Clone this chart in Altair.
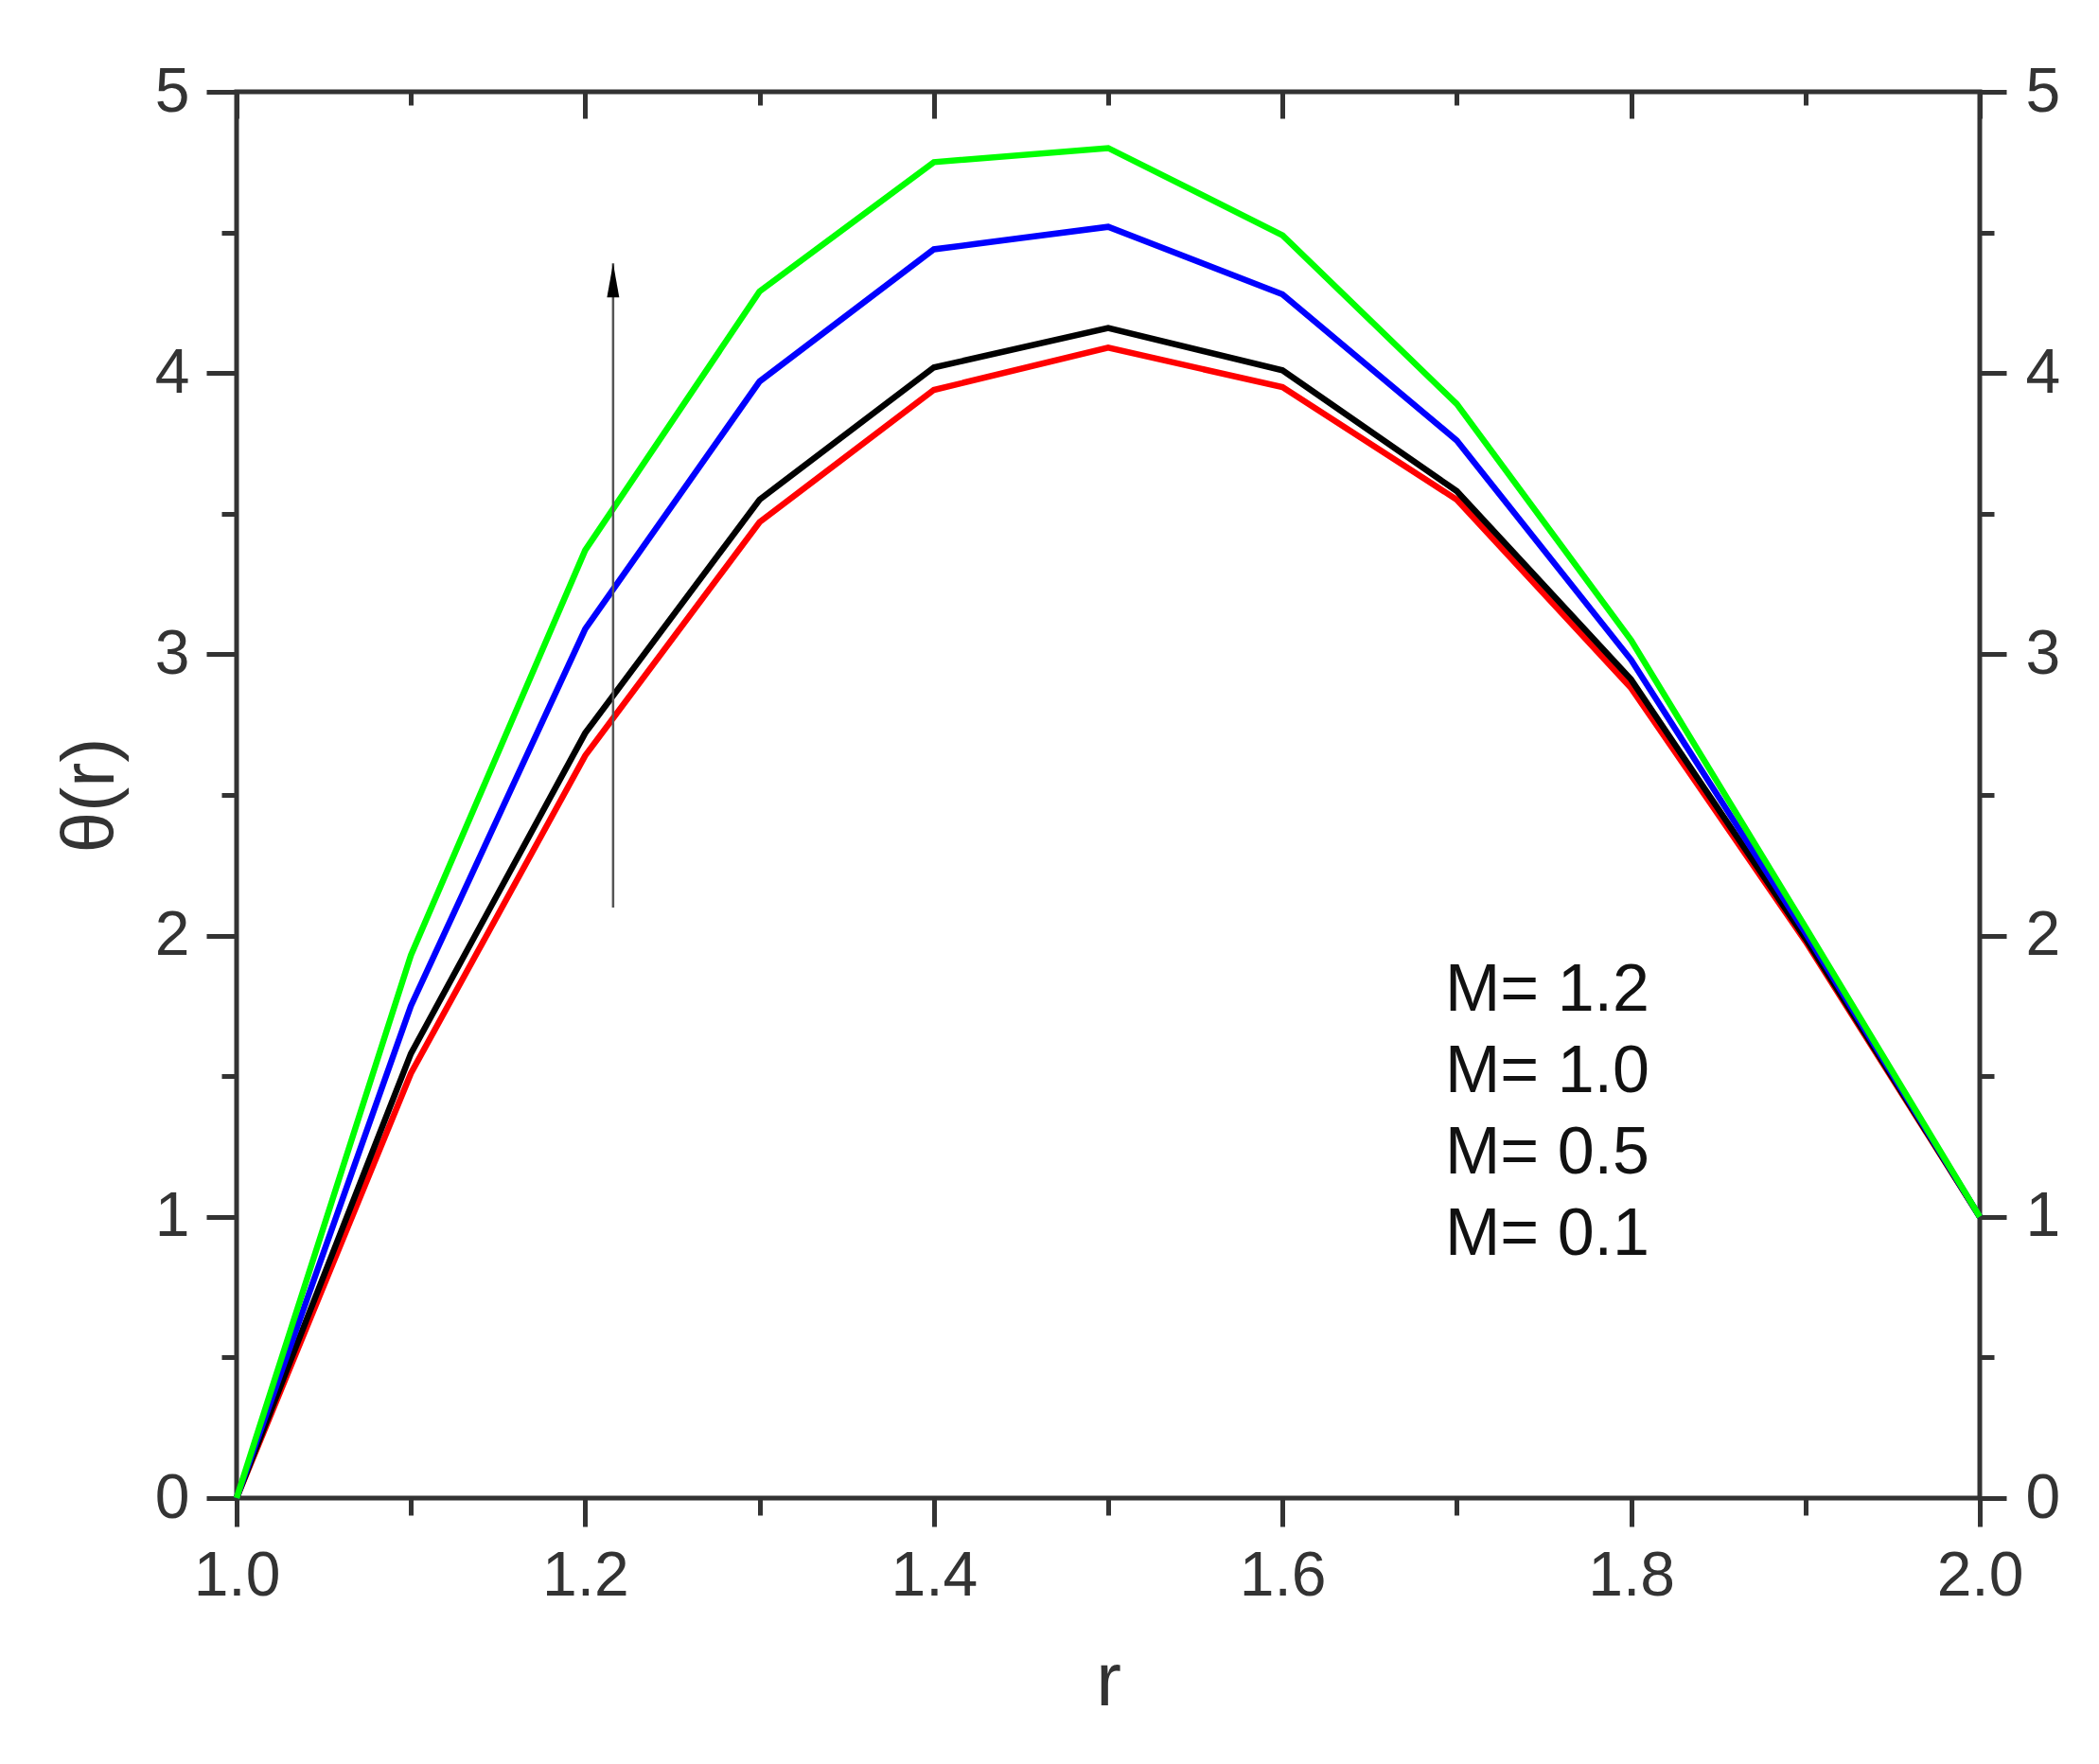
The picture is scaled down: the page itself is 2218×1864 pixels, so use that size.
import altair as alt
import pandas as pd

# ---- data ----
r_values = [1.0, 1.1, 1.2, 1.3, 1.4, 1.5, 1.6, 1.7, 1.8, 1.9, 2.0]
theta_M12 = [0.0, 1.93, 3.37, 4.29, 4.75, 4.80, 4.49, 3.89, 3.05, 2.03, 1.0]
theta_M10 = [0.0, 1.75, 3.09, 3.97, 4.44, 4.52, 4.28, 3.76, 2.98, 2.01, 1.0]
theta_M05 = [0.0, 1.58, 2.72, 3.55, 4.02, 4.16, 4.01, 3.58, 2.91, 1.99, 1.0]
theta_M01 = [0.0, 1.51, 2.64, 3.47, 3.94, 4.09, 3.95, 3.55, 2.88, 1.98, 1.0]

M_labels = ["1.2", "1.0", "0.5", "0.1"]
line_colors = ["#00ff00", "#0000ff", "#000000", "#ff0000"]

arrow_r = [1.216]
arrow_from = [2.10]
arrow_to = [4.39]

x_tick_values = [1.0, 1.1, 1.2, 1.3, 1.4, 1.5, 1.6, 1.7, 1.8, 1.9, 2.0]
x_major_values = [1.0, 1.2, 1.4, 1.6, 1.8, 2.0]
x_minor_values = [1.1, 1.3, 1.5, 1.7, 1.9]
y_tick_values = [0, 0.5, 1, 1.5, 2, 2.5, 3, 3.5, 4, 4.5, 5]

# ---- tables ----
series = [("0.1", theta_M01), ("0.5", theta_M05), ("1.0", theta_M10), ("1.2", theta_M12)]
rows = []
for m, vals in series:
    for r, t in zip(r_values, vals):
        rows.append({"r": r, "theta": t, "M": m})
lines_df = pd.DataFrame(rows)
arrow_df = pd.DataFrame({"r": arrow_r, "y0": arrow_from, "y1": arrow_to})

FONT = "Liberation Sans"
AX = "#333333"
TW = 5

x_scale = alt.Scale(domain=[1.0, 2.0], nice=False, zero=False)
y_scale = alt.Scale(domain=[0, 5], nice=False, zero=False)

x_major_test = "round(datum.value*10) % 2 === 0"
y_major_test = "datum.value % 1 === 0"

x_bottom = alt.Axis(
    values=x_tick_values, orient="bottom", grid=False, domain=False,
    labelExpr=f"{x_major_test} ? format(datum.value, '.1f') : ''",
    tickSize={"condition": {"test": x_major_test, "value": 30}, "value": 18},
    tickWidth=TW, tickColor=AX,
    labelFont=FONT, labelFontSize=66, labelColor=AX, labelPadding=20,
    labelOverlap=False, labelFlush=False,
    title="r", titleFont=FONT, titleFontSize=80, titleColor=AX,
    titleFontWeight="normal", titlePadding=40,
)
y_left = alt.Axis(
    values=y_tick_values, orient="left", grid=False, domain=False,
    labelExpr=f"{y_major_test} ? format(datum.value, 'd') : ''",
    tickSize={"condition": {"test": y_major_test, "value": 32}, "value": 16},
    tickWidth=TW, tickColor=AX,
    labelFont=FONT, labelFontSize=66, labelColor=AX, labelPadding=18,
    labelOverlap=False, labelFlush=False,
    title="θ(r)", titleFont=FONT, titleFontSize=78, titleColor=AX,
    titleFontWeight="normal", titlePadding=28,
)
x_top_major = alt.Axis(
    values=x_major_values, orient="top", grid=False, domain=False,
    labels=False, tickSize=28, offset=-28, tickWidth=TW, tickColor=AX, title=None,
)
x_top_minor = alt.Axis(
    values=x_minor_values, orient="top", grid=False, domain=False,
    labels=False, tickSize=14, offset=-14, tickWidth=TW, tickColor=AX, title=None,
)
y_right = alt.Axis(
    values=y_tick_values, orient="right", grid=False, domain=False,
    labelExpr=f"{y_major_test} ? format(datum.value, 'd') : ''",
    tickSize={"condition": {"test": y_major_test, "value": 28}, "value": 15},
    tickWidth=TW, tickColor=AX,
    labelFont=FONT, labelFontSize=66, labelColor=AX, labelPadding=20,
    labelOverlap=False, labelFlush=False, title=None,
)

lines = alt.Chart(lines_df).mark_line(strokeWidth=6.5).encode(
    x=alt.X("r:Q", scale=x_scale, axis=x_bottom),
    y=alt.Y("theta:Q", scale=y_scale, axis=y_left),
    color=alt.Color(
        "M:N",
        sort=M_labels,
        scale=alt.Scale(domain=M_labels, range=line_colors),
        legend=alt.Legend(
            orient="none", legendX=1207, legendY=915, title=None,
            labelExpr="'M= ' + datum.label",
            labelFont=FONT, labelFontSize=70, labelColor="#111111",
            labelLimit=0, labelOffset=0,
            symbolSize=0, symbolOpacity=0, symbolStrokeWidth=0,
            rowPadding=16,
        ),
    ),
    detail="M:N",
)

shaft = alt.Chart(arrow_df).mark_rule(color="#555555", strokeWidth=2.5).encode(
    x=alt.X("r:Q", scale=x_scale, axis=x_top_major),
    y=alt.Y("y0:Q", scale=y_scale, axis=y_right),
    y2="y1:Q",
)

head = alt.Chart(arrow_df).mark_point(
    shape="M0,0 L0.36,2 L-0.36,2 Z", filled=True, size=1296, color="#000000", opacity=1
).encode(
    x=alt.X("r:Q", scale=x_scale, axis=x_top_minor),
    y=alt.Y("y1:Q", scale=y_scale, axis=None),
)

chart = alt.layer(lines, shaft, head).resolve_axis(
    x="independent", y="independent"
).properties(
    width=1842, height=1486,
    padding={"left": 242, "top": 89, "right": 110, "bottom": 265},
    autosize=alt.AutoSizeParams(type="none"),
    background="white",
).configure_view(
    stroke=AX, strokeWidth=5
)

chart.save("out.html", embed_options={"renderer": "svg", "actions": False})
